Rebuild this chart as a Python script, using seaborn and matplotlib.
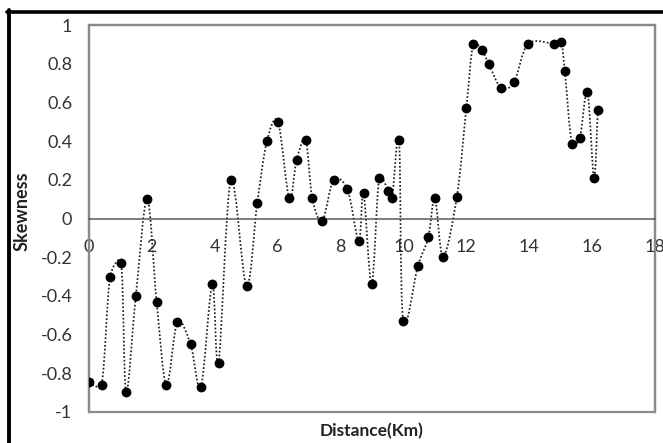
import numpy as np
import pandas as pd
import matplotlib
matplotlib.use("Agg")
import matplotlib.pyplot as plt
import seaborn as sns
from matplotlib.path import Path
from matplotlib.patches import PathPatch, Rectangle
from matplotlib.lines import Line2D
from matplotlib.ticker import FixedLocator, FixedFormatter

# ---- data ----
distance_km = [0.00, 0.40, 0.67, 1.02, 1.18, 1.49, 1.85, 2.15, 2.46, 2.81,
               3.23, 3.56, 3.92, 4.12, 4.51, 5.01, 5.35, 5.66, 6.01, 6.37,
               6.60, 6.89, 7.10, 7.42, 7.78, 8.22, 8.58, 8.73, 8.99, 9.23,
               9.52, 9.64, 9.86, 9.99, 10.46, 10.79, 11.00, 11.26, 11.70, 12.00,
               12.22, 12.49, 12.71, 13.11, 13.52, 13.97, 14.80, 15.01, 15.13, 15.36,
               15.61, 15.85, 16.06, 16.18]
skewness = [-0.847, -0.860, -0.300, -0.228, -0.895, -0.400, 0.100, -0.430, -0.860, -0.537,
            -0.650, -0.870, -0.338, -0.745, 0.200, -0.350, 0.080, 0.400, 0.500, 0.104,
            0.300, 0.405, 0.104, -0.011, 0.200, 0.150, -0.116, 0.130, -0.338, 0.210,
            0.144, 0.104, 0.405, -0.528, -0.245, -0.097, 0.104, -0.197, 0.113, 0.571,
            0.903, 0.872, 0.800, 0.673, 0.707, 0.903, 0.903, 0.914, 0.764, 0.383,
            0.418, 0.652, 0.210, 0.560]
x_ticks = [0, 2, 4, 6, 8, 10, 12, 14, 16, 18]
x_tick_labels = ["0", "2", "4", "6", "8", "10", "12", "14", "16", "18"]
y_ticks = [1, 0.8, 0.6, 0.4, 0.2, 0, -0.2, -0.4, -0.6, -0.8, -1]
y_tick_labels = ["1", "0.8", "0.6", "0.4", "0.2", "0", "-0.2", "-0.4", "-0.6", "-0.8", "-1"]
x_label = "Distance(Km)"
y_label = "Skewness"

df = pd.DataFrame({"distance": distance_km, "skewness": skewness})

sns.set_theme(style="white")
plt.rcParams["font.family"] = ["Lato", "DejaVu Sans"]

fig = plt.figure(figsize=(6.63, 4.43), dpi=100)
W, H = 663, 443
ax = fig.add_axes([89 / W, 1 - 412 / H, (655 - 89) / W, (412 - 25) / H])

X_MIN, X_MAX, Y_MIN, Y_MAX = 0, 18, -1, 1
ax.set_xlim(X_MIN, X_MAX)
ax.set_ylim(Y_MIN, Y_MAX)

# smooth (Excel-like) dotted curve through the points, built from the data
bbox = ax.get_window_extent()
scale = np.array([bbox.width / (X_MAX - X_MIN), bbox.height / (Y_MAX - Y_MIN)])
pts = np.column_stack([df["distance"].to_numpy(), df["skewness"].to_numpy()])
n = len(pts)


def plen(v):
    return float(np.hypot(*(v * scale)))


def clamp(v, limit):
    L = plen(v)
    return v * (limit / L) if L > limit and L > 0 else v


verts = [tuple(pts[0])]
codes = [Path.MOVETO]
for i in range(n - 1):
    p0 = pts[i - 1] if i > 0 else pts[i]
    p1 = pts[i]
    p2 = pts[i + 1]
    p3 = pts[i + 2] if i + 2 < n else pts[i + 1]
    d12 = plen(p2 - p1)
    v1 = clamp((p2 - p0) / 6.0, 0.5 * d12)
    v2 = clamp((p3 - p1) / 6.0, 0.5 * d12)
    c1 = p1 + v1
    c2 = p2 - v2
    verts += [tuple(c1), tuple(c2), tuple(p2)]
    codes += [Path.CURVE4, Path.CURVE4, Path.CURVE4]
curve = PathPatch(Path(verts, codes), facecolor="none", edgecolor="#1e1e1e",
                  linewidth=1.25, linestyle=(0, (1, 1.2)), zorder=2)
ax.add_patch(curve)

sns.scatterplot(data=df, x="distance", y="skewness", ax=ax, color="black",
                s=50, edgecolor="black", linewidth=0, zorder=3, legend=False)

ax.set_xlim(X_MIN, X_MAX)
ax.set_ylim(Y_MIN, Y_MAX)

ax.xaxis.set_major_locator(FixedLocator(x_ticks))
ax.xaxis.set_major_formatter(FixedFormatter(x_tick_labels))
ax.yaxis.set_major_locator(FixedLocator(y_ticks))
ax.yaxis.set_major_formatter(FixedFormatter(y_tick_labels))
ax.tick_params(axis="x", length=0, pad=14.5, labelsize=13, labelcolor="#333333")
ax.tick_params(axis="y", length=0, pad=12, labelsize=13, labelcolor="#333333")

frame_col = "#8a8a8a"
for s in ["left", "top", "right"]:
    ax.spines[s].set_color(frame_col)
    ax.spines[s].set_linewidth(1.6)
ax.spines["bottom"].set_position(("data", 0))
ax.spines["bottom"].set_color("#5a5a5a")
ax.spines["bottom"].set_linewidth(1.1)
ax.add_patch(Rectangle((0, 0), 1, 1, transform=ax.transAxes, fill=False,
                       edgecolor=frame_col, linewidth=1.6, clip_on=False, zorder=1))

ax.set_xlabel(x_label, fontsize=12.5, fontweight="bold", color="#222222")
ax.set_ylabel(y_label, fontsize=13, fontweight="bold", color="#222222")
ax.xaxis.label.set_va("center")
ax.yaxis.label.set_va("center")
ax.xaxis.set_label_coords(0.5, -0.05)
ax.yaxis.set_label_coords(-0.118, 0.52)

# black border (top and left) of the picture
fig.add_artist(Line2D([7 / W, 1], [1 - 11.5 / H, 1 - 11.5 / H], color="black",
                      linewidth=2.6, transform=fig.transFigure))
fig.add_artist(Line2D([9 / W, 9 / W], [0, 1 - 10 / H], color="black",
                      linewidth=2.8, transform=fig.transFigure))

fig.savefig("out.png", dpi=100, facecolor="white")
